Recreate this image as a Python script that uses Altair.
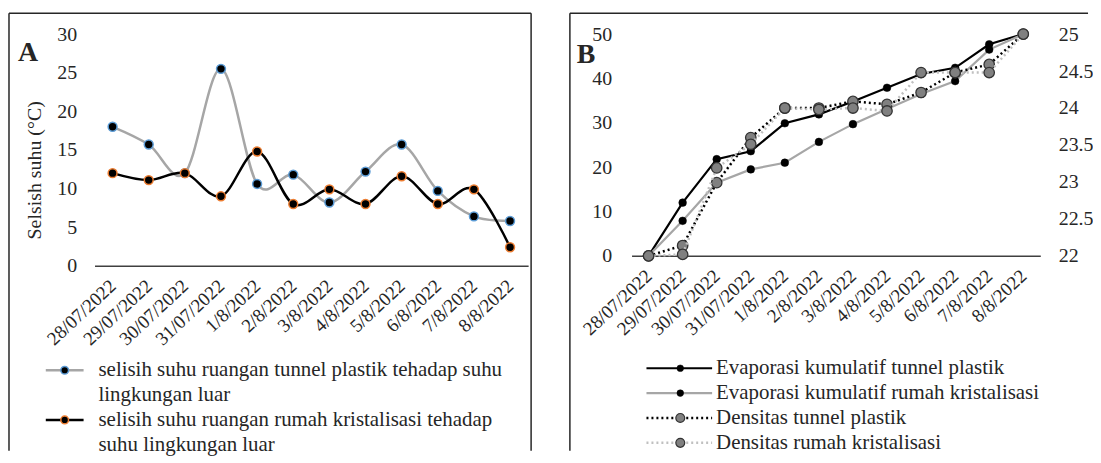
import altair as alt
import pandas as pd

# ---------------- data ----------------
dates = ["28/07/2022", "29/07/2022", "30/07/2022", "31/07/2022", "1/8/2022", "2/8/2022",
         "3/8/2022", "4/8/2022", "5/8/2022", "6/8/2022", "7/8/2022", "8/8/2022"]

# Panel A: temperature difference (°C)
suhu_tunnel = [18.0, 15.7, 12.0, 25.5, 10.6, 11.8, 8.2, 12.2, 15.7, 9.7, 6.4, 5.8]
suhu_rumah = [12.0, 11.1, 12.0, 9.0, 14.8, 8.0, 9.9, 8.0, 11.6, 8.0, 9.9, 2.4]

# Panel B: cumulative evaporation (left axis) and density (right axis)
evap_tunnel = [0.0, 12.0, 21.8, 23.6, 29.9, 31.9, 34.8, 37.9, 41.0, 42.4, 47.7, 50.0]
evap_rumah = [0.0, 7.9, 16.5, 19.5, 21.0, 25.7, 29.7, 33.1, 36.5, 39.4, 46.5, 50.0]
dens_tunnel = [22.0, 22.14, 22.99, 23.6, 24.0, 24.0, 24.09, 24.05, 24.21, 24.48, 24.59, 25.0]
dens_rumah = [22.0, 22.02, 23.19, 23.51, 24.0, 23.98, 24.0, 23.96, 24.48, 24.48, 24.48, 25.0]

ticks_A = [0, 5, 10, 15, 20, 25, 30]
ticks_B_left = [0, 10, 20, 30, 40, 50]
ticks_B_right = [22, 22.5, 23, 23.5, 24, 24.5, 25]

legend_A = [["selisih suhu ruangan tunnel plastik tehadap suhu", "lingkungan luar"],
            ["selisih suhu ruangan rumah kristalisasi tehadap", "suhu lingkungan luar"]]
legend_B = ["Evaporasi kumulatif tunnel plastik", "Evaporasi kumulatif rumah kristalisasi",
            "Densitas tunnel plastik", "Densitas rumah kristalisasi"]

FONT = "Liberation Serif"
TXT = "#262626"
LINE_BORDER = "#262626"
LEG_SIZE = 21


def series_df(values):
    return pd.DataFrame({"tanggal": dates, "nilai": values})


def one_row():
    return pd.DataFrame({"k": [0]})


def rule(x, x2, y, y2, color, width, dash=None):
    kw = dict(color=color, strokeWidth=width)
    if dash:
        kw["strokeDash"] = dash
    return alt.Chart(one_row()).mark_rule(**kw).encode(
        x=alt.value(x), x2=alt.value(x2), y=alt.value(y), y2=alt.value(y2))


def label(txt, x, y, size, bold=False, angle=None, align="left"):
    kw = dict(text=txt, font=FONT, fontSize=size, color=TXT, align=align, baseline="middle")
    if bold:
        kw["fontWeight"] = "bold"
    if angle is not None:
        kw["angle"] = angle
    return alt.Chart(one_row()).mark_text(**kw).encode(x=alt.value(x), y=alt.value(y))


def dot(x, y, fill, stroke, size, sw):
    return alt.Chart(one_row()).mark_point(
        shape="circle", filled=True, fill=fill, stroke=stroke, size=size,
        strokeWidth=sw, opacity=1).encode(x=alt.value(x), y=alt.value(y))


def x_enc():
    return alt.X("tanggal:N", sort=dates,
                 scale=alt.Scale(type="point", padding=0.5),
                 axis=alt.Axis(title=None, labelAngle=-43, labelAlign="right",
                               labelBaseline="middle", labelFont=FONT, labelFontSize=19,
                               labelColor=TXT, labelPadding=17, ticks=False, tickSize=0,
                               domain=True, domainColor="#404040", domainWidth=1.5,
                               grid=False, labelOverlap=False))


# ---------------- Panel A ----------------
WA, HA = 436, 233

yA = alt.Y("nilai:Q", scale=alt.Scale(domain=[0, 30], nice=False, zero=True),
           axis=alt.Axis(title=None, values=ticks_A, domain=False, ticks=False, tickSize=0,
                         grid=False, labelFont=FONT, labelFontSize=20, labelColor=TXT,
                         labelPadding=18))

dA_t = series_df(suhu_tunnel)
dA_r = series_df(suhu_rumah)

lineA_t = alt.Chart(dA_t).mark_line(color="#a6a6a6", strokeWidth=2.5, interpolate="cardinal").encode(x=x_enc(), y=yA)
ptsA_t = alt.Chart(dA_t).mark_point(shape="circle", filled=True, fill="#000000", stroke="#5b9bd5",
                                     strokeWidth=1.5, size=80, opacity=1).encode(x=x_enc(), y=yA)
lineA_r = alt.Chart(dA_r).mark_line(color="#000000", strokeWidth=2.5, interpolate="cardinal").encode(x=x_enc(), y=yA)
ptsA_r = alt.Chart(dA_r).mark_point(shape="circle", filled=True, fill="#000000", stroke="#ed7d31",
                                     strokeWidth=1.5, size=80, opacity=1).encode(x=x_enc(), y=yA)

decoA = [
    rule(-86, 439, -21, -21, LINE_BORDER, 1.5),
    rule(-86, -86, -21, 419, LINE_BORDER, 1.5),
    rule(439, 439, -21, 419, LINE_BORDER, 1.5),
    label("A", -77, 19, 28, bold=True),
    label("Selsish suhu (°C)", -60, 137, 20, angle=270, align="center"),
    # legend entry 1
    rule(-49, -11, 338, 338, "#a6a6a6", 2.5),
    dot(-30, 338, "#000000", "#5b9bd5", 60, 1.5),
    label(legend_A[0][0], 4, 338, LEG_SIZE),
    label(legend_A[0][1], 4, 363, LEG_SIZE),
    # legend entry 2
    rule(-49, -11, 388, 388, "#000000", 2.5),
    dot(-30, 388, "#000000", "#ed7d31", 60, 1.5),
    label(legend_A[1][0], 4, 388, LEG_SIZE),
    label(legend_A[1][1], 4, 413, LEG_SIZE),
]

panelA = alt.layer(*decoA[:3], lineA_t, ptsA_t, lineA_r, ptsA_r, *decoA[3:]).properties(width=WA, height=HA)

# ---------------- Panel B ----------------
WB, HB = 411, 223

yB_left = alt.Y("nilai:Q", scale=alt.Scale(domain=[0, 50], nice=False),
                axis=alt.Axis(title=None, orient="left", values=ticks_B_left, domain=False,
                              ticks=False, tickSize=0, grid=False, labelFont=FONT,
                              labelFontSize=20, labelColor=TXT, labelPadding=20))
yB_right = alt.Y("nilai:Q", scale=alt.Scale(domain=[22, 25], nice=False, zero=False),
                 axis=alt.Axis(title=None, orient="right", values=ticks_B_right, format="~g",
                               domain=False, ticks=False, tickSize=0, grid=False,
                               labelFont=FONT, labelFontSize=20, labelColor=TXT,
                               labelPadding=18))

dB_et = series_df(evap_tunnel)
dB_er = series_df(evap_rumah)
dB_dt = series_df(dens_tunnel)
dB_dr = series_df(dens_rumah)

left_layer = alt.layer(
    alt.Chart(dB_et).mark_line(color="#000000", strokeWidth=2.2).encode(x=x_enc(), y=yB_left),
    alt.Chart(dB_et).mark_point(shape="circle", filled=True, fill="#000000", stroke="#000000",
                                strokeWidth=0.5, size=60, opacity=1).encode(x=x_enc(), y=yB_left),
    alt.Chart(dB_er).mark_line(color="#a6a6a6", strokeWidth=2.2).encode(x=x_enc(), y=yB_left),
    alt.Chart(dB_er).mark_point(shape="circle", filled=True, fill="#000000", stroke="#000000",
                                strokeWidth=0.5, size=60, opacity=1).encode(x=x_enc(), y=yB_left),
)
right_layer = alt.layer(
    alt.Chart(dB_dt).mark_line(color="#000000", strokeWidth=2.5, strokeDash=[2, 3]).encode(x=x_enc(), y=yB_right),
    alt.Chart(dB_dt).mark_point(shape="circle", filled=True, fill="#808080", stroke="#333333",
                                strokeWidth=1.3, size=110, opacity=1).encode(x=x_enc(), y=yB_right),
    alt.Chart(dB_dr).mark_line(color="#c0c0c0", strokeWidth=2.5, strokeDash=[2, 3]).encode(x=x_enc(), y=yB_right),
    alt.Chart(dB_dr).mark_point(shape="circle", filled=True, fill="#808080", stroke="#333333",
                                strokeWidth=1.3, size=110, opacity=1).encode(x=x_enc(), y=yB_right),
)

decoB = [
    rule(-62, 459, -21, -21, LINE_BORDER, 1.5),
    rule(-62, -62, -21, 419, LINE_BORDER, 1.5),
    label("B", -55, 21, 28, bold=True),
    # legend
    rule(15, 81, 336, 336, "#000000", 2.2),
    dot(49, 336, "#000000", "#000000", 45, 0.5),
    label(legend_B[0], 85, 336, LEG_SIZE),
    rule(15, 81, 361, 361, "#a6a6a6", 2.2),
    dot(49, 361, "#000000", "#000000", 45, 0.5),
    label(legend_B[1], 85, 361, LEG_SIZE),
    rule(15, 81, 386, 386, "#000000", 2.5, dash=[2, 3]),
    dot(49, 386, "#808080", "#333333", 80, 1.2),
    label(legend_B[2], 85, 386, LEG_SIZE),
    rule(15, 81, 411, 411, "#c0c0c0", 2.5, dash=[2, 3]),
    dot(49, 411, "#808080", "#333333", 80, 1.2),
    label(legend_B[3], 85, 411, LEG_SIZE),
]

panelB = alt.layer(left_layer, right_layer, *decoB).resolve_scale(y="independent").properties(width=WB, height=HB)

chart = alt.hconcat(panelA, panelB, spacing=104, bounds="flush").properties(
    padding={"left": 0, "top": 3, "right": 0, "bottom": 0},
    background="white",
).configure_view(stroke=None)

chart.save("out.html", embed_options={"renderer": "svg", "actions": False})
